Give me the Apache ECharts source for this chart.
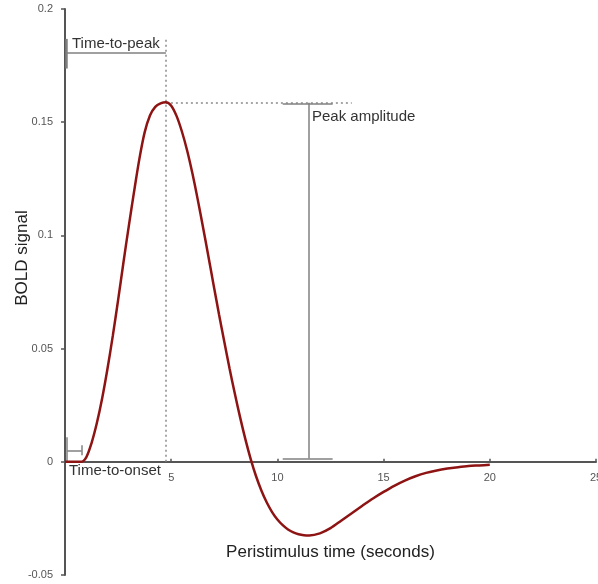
<!DOCTYPE html>
<html>
<head>
<meta charset="utf-8">
<script src="https://cdn.jsdelivr.net/npm/echarts@6/dist/echarts.min.js"></script>
<style>
html,body{margin:0;padding:0;background:#fff;}
#chart{width:598px;height:584px;}
</style>
</head>
<body>
<div id="chart"></div>
<script>
// Data
var times = [0, 0.25, 0.5, 0.75, 1, 1.25, 1.5, 1.75, 2, 2.25, 2.5, 2.75, 3, 3.25, 3.5, 3.75, 4, 4.25, 4.5, 4.75,
             5, 5.25, 5.5, 5.75, 6, 6.25, 6.5, 6.75, 7, 7.25, 7.5, 7.75, 8, 8.25, 8.5, 8.75, 9, 9.25, 9.5, 9.75,
             10, 10.25, 10.5, 10.75, 11, 11.25, 11.5, 12, 12.5, 13, 13.5, 14, 14.5, 15, 15.5, 16, 16.5, 17, 17.5,
             18, 18.5, 19, 19.5, 20];
var bold =  [0, 0, 0, 0, 0.002, 0.0083, 0.0171, 0.0281, 0.0411, 0.0556, 0.0714, 0.0879, 0.1039, 0.1192, 0.1337, 0.1455, 0.153, 0.1568, 0.1583, 0.1588,
             0.1573, 0.1528, 0.146, 0.1375, 0.1273, 0.1158, 0.1035, 0.0908, 0.0779, 0.0652, 0.053, 0.0411, 0.0299, 0.0194, 0.0097, 0.001, -0.0065, -0.0128, -0.018, -0.0222,
             -0.0255, -0.028, -0.0299, -0.0312, -0.032, -0.0324, -0.0325, -0.0316, -0.0293, -0.026, -0.0227, -0.0194, -0.0162, -0.0133, -0.0106, -0.0083, -0.0064, -0.0049, -0.0038,
             -0.003, -0.0024, -0.0019, -0.0016, -0.0013];
var xTicks = [0, 5, 10, 15, 20, 25];
var yTicks = [-0.05, 0, 0.05, 0.1, 0.15, 0.2];
var peakTime = 4.75;
var peakAmp = 0.1586;
var onsetTime = 0.78;
var ampTime = 11.48;

var curve = times.map(function (t, i) { return [t, bold[i]]; });

var W = 598, H = 584;
var gridTop = 9, gridBottom = 9;
var yMin = yTicks[0], yMax = yTicks[yTicks.length - 1];
var plotH = H - gridTop - gridBottom;
// move the x axis (line, ticks, labels, name) up to y = 0
var xAxisOffset = -((0 - yMin) / (yMax - yMin)) * plotH;

var chart = echarts.init(document.getElementById('chart'));
var solid = {color: '#808080', width: 1.5, type: 'solid'};
var dotted = {color: '#8a8a8a', width: 1.5, type: [2, 3]};
function seg(x1, y1, x2, y2, style) {
  return [{coord: [x1, y1], lineStyle: style}, {coord: [x2, y2]}];
}
var font = 'Liberation Sans, Arial, sans-serif';
chart.setOption({
  animation: false,
  grid: {left: 65, right: 2, top: gridTop, bottom: gridBottom, containLabel: false, outerBoundsMode: 'none'},
  xAxis: {
    type: 'value', min: xTicks[0], max: xTicks[xTicks.length - 1], interval: 5,
    position: 'bottom', offset: xAxisOffset,
    axisLine: {onZero: false, lineStyle: {color: '#555', width: 2}},
    axisTick: {show: true, inside: true, length: 3, lineStyle: {color: '#555', width: 1.5}},
    axisLabel: {color: '#555', fontSize: 11, fontFamily: font, margin: 11, hideOverlap: false,
      formatter: function (v) { return v === 0 ? '' : String(v); }},
    splitLine: {show: false},
    name: 'Peristimulus time (seconds)', nameLocation: 'middle', nameGap: 82,
    nameTextStyle: {color: '#222', fontSize: 17, fontFamily: font}
  },
  yAxis: {
    type: 'value', min: yMin, max: yMax, interval: 0.05,
    axisLine: {show: true, onZero: false, lineStyle: {color: '#555', width: 2}},
    axisTick: {show: true, length: 4, lineStyle: {color: '#555', width: 1.5}},
    axisLabel: {color: '#555', fontSize: 11, fontFamily: font, margin: 12,
      formatter: function (v) { return String(Math.round(v * 100) / 100); }},
    splitLine: {show: false}
  },
  graphic: [
    {type: 'text', x: 22, y: 258, rotation: Math.PI / 2,
      style: {text: 'BOLD signal', fill: '#222', font: '17px ' + font, align: 'center', verticalAlign: 'middle'}},
    {type: 'text', x: 72, y: 44, style: {text: 'Time-to-peak', fill: '#333', font: '15px ' + font, verticalAlign: 'middle'}},
    {type: 'text', x: 312, y: 117, style: {text: 'Peak amplitude', fill: '#333', font: '15px ' + font, verticalAlign: 'middle'}},
    {type: 'text', x: 69, y: 471, style: {text: 'Time-to-onset', fill: '#333', font: '15px ' + font, verticalAlign: 'middle'}}
  ],
  series: [
    {
      type: 'line', data: [], silent: true,
      markLine: {
        silent: true, symbol: 'none', label: {show: false}, animation: false,
        data: [
          // time-to-peak bracket
          seg(0.05, 0.1807, peakTime, 0.1807, solid),
          seg(0.08, 0.1737, 0.08, 0.1868, {color: '#808080', width: 2.5, type: 'solid'}),
          seg(peakTime, 0, peakTime, 0.1868, dotted),
          // peak level
          seg(peakTime, peakAmp, 13.5, peakAmp, dotted),
          // peak amplitude bar
          seg(ampTime, peakAmp, ampTime, 0.0015, solid),
          seg(10.25, peakAmp - 0.0005, 12.6, peakAmp - 0.0005, solid),
          seg(10.25, 0.0015, 12.6, 0.0015, solid),
          // time-to-onset bracket
          seg(0.1, 0, 0.1, 0.0108, solid),
          seg(0.1, 0.0051, onsetTime, 0.0051, solid),
          seg(onsetTime, 0.0029, onsetTime, 0.0073, solid)
        ]
      }
    },
    {
      type: 'line', data: curve, smooth: 0.3, showSymbol: false, z: 5,
      lineStyle: {color: '#8e1414', width: 2.5}
    }
  ]
});
</script>
</body>
</html>
